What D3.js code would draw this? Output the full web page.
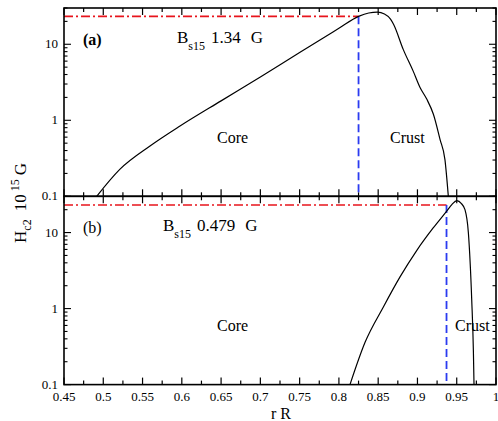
<!DOCTYPE html>
<html><head><meta charset="utf-8">
<script src="https://cdn.jsdelivr.net/npm/d3@7"></script>
<style>body{margin:0;background:#fff}svg{display:block}</style>
</head><body><svg id="c" width="498" height="421"></svg>
<script>
// Data
const xTicks = [0.45,0.5,0.55,0.6,0.65,0.7,0.75,0.8,0.85,0.9,0.95,1];
const xTickLabels = ["0.45","0.5","0.55","0.6","0.65","0.7","0.75","0.8","0.85","0.9","0.95","1"];
const yTicks = [0.1,1,10];
const yTickLabels = ["0.1","1","10"];
const rTop = [0.4916,0.521,0.5595,0.5977,0.65,0.7,0.75,0.8,0.825,0.838,0.849,0.858,0.8657,0.8697,0.882,0.8947,0.9033,0.9118,0.9203,0.9288,0.935,0.9393];
const hTop = [0.1,0.226,0.459,0.84,1.8,3.7,7.8,16.2,23.3,25.8,26.4,25,21.4,18.2,8.5,4.4,2.7,1.9,1.2,0.557,0.304,0.1];
const rBot = [0.8141,0.8333,0.8566,0.878,0.899,0.920,0.937,0.944,0.950,0.956,0.9605,0.9648,0.9691,0.9712,0.972];
const hBot = [0.1,0.36,1.05,2.63,5.8,11.5,19,23.5,26.3,24,20,10,1.3,0.28,0.1];
const panels = [
  {tag:"(a)", bold:true, bval:"1.34", hc:23.3, rc:0.825, r:rTop, h:hTop, bx:177, corex:217, crustx:390},
  {tag:"(b)", bold:false, bval:"0.479", hc:23.1, rc:0.937, r:rBot, h:hBot, bx:163, corex:217, crustx:455}
];
const FONT = '"Liberation Serif", "Times New Roman", serif';

const svg = d3.select("#c");
const L=64, R=496, T=8, PH=188.3;
const x = d3.scaleLinear().domain([0.45,1]).range([L,R]);
function txt(sel, xx, yy, size){
  return sel.append("text").attr("x",xx).attr("y",yy).style("font-family",FONT).style("font-size",size+"px").attr("fill","#000");
}

panels.forEach((p,i)=>{
  const top = T + i*PH, bot = top+PH;
  const y = d3.scaleLog().domain([0.1,30]).range([bot,top]);
  const g = svg.append("g");
  const cid = "clip"+i;
  g.append("clipPath").attr("id",cid).append("rect").attr("x",L).attr("y",top).attr("width",R-L).attr("height",PH);

  const xmin = d3.range(0,23).map(k=>0.45+k*0.025);
  xmin.forEach((v,k)=>{
    const len = (k%2===0)?7:4;
    g.append("line").attr("x1",x(v)).attr("x2",x(v)).attr("y1",bot).attr("y2",bot-len).attr("stroke","#000").attr("stroke-width",1.2);
    g.append("line").attr("x1",x(v)).attr("x2",x(v)).attr("y1",top).attr("y2",top+len).attr("stroke","#000").attr("stroke-width",1.2);
  });
  const ymin = [];
  [0.1,1,10].forEach(d=>{for(let m=1;m<=9;m++){const v=d*m; if(v<=30) ymin.push([v,m===1]);}});
  ymin.forEach(([v,maj])=>{
    const len = maj?7:3.5;
    g.append("line").attr("x1",L).attr("x2",L+len).attr("y1",y(v)).attr("y2",y(v)).attr("stroke","#000").attr("stroke-width",1.1);
    g.append("line").attr("x1",R).attr("x2",R-len).attr("y1",y(v)).attr("y2",y(v)).attr("stroke","#000").attr("stroke-width",1.1);
  });
  yTicks.forEach((v,k)=>{
    txt(g, L-6, y(v)+4, 13).attr("text-anchor","end").text(yTickLabels[k]);
  });

  g.append("line").attr("x1",L).attr("x2",x(p.rc)).attr("y1",y(p.hc)).attr("y2",y(p.hc))
    .attr("stroke","#e8141c").attr("stroke-width",1.6).attr("stroke-dasharray","9,3,2,3");
  g.append("line").attr("x1",x(p.rc)).attr("x2",x(p.rc)).attr("y1",y(p.hc)).attr("y2",bot)
    .attr("stroke","#2b3bf0").attr("stroke-width",1.8).attr("stroke-dasharray","8,4");

  const line = d3.line().x(d=>x(d[0])).y(d=>y(d[1])).curve(d3.curveMonotoneX);
  g.append("path").attr("clip-path",`url(#${cid})`).attr("d",line(p.r.map((r,k)=>[r,p.h[k]])))
    .attr("fill","none").attr("stroke","#000").attr("stroke-width",1.2);

  txt(g, 83, top+37, 16).style("font-weight",p.bold?"bold":"normal").text(p.tag);
  const bt = txt(g, p.bx, top+35, 17);
  bt.append("tspan").text("B");
  bt.append("tspan").style("font-size","12px").attr("dy",7).text("s15");
  bt.append("tspan").attr("dy",-7).attr("dx",6).text(p.bval);
  bt.append("tspan").attr("dx",10).text("G");
  txt(g, p.corex, top+135, 16).text("Core");
  txt(g, p.crustx, top+135, 16).text("Crust");

  g.append("rect").attr("x",L).attr("y",top).attr("width",R-L).attr("height",PH)
    .attr("fill","none").attr("stroke","#000").attr("stroke-width",1.6);
});

xTicks.forEach((v,k)=>{
  txt(svg, x(v), T+2*PH+16, 13).attr("text-anchor","middle").text(xTickLabels[k]);
});
txt(svg, 281, 419, 16).attr("text-anchor","middle").text("r R");

const yl = svg.append("text").attr("transform","translate(26,203) rotate(-90)").attr("text-anchor","middle")
  .style("font-family",FONT).style("font-size","17px");
yl.append("tspan").text("H");
yl.append("tspan").style("font-size","12px").attr("dy",5).text("c2");
yl.append("tspan").attr("dy",-5).attr("dx",8).text("10");
yl.append("tspan").style("font-size","12px").attr("dy",-7).attr("dx",3).text("15");
yl.append("tspan").attr("dy",7).attr("dx",4).text("G");
</script></body></html>
